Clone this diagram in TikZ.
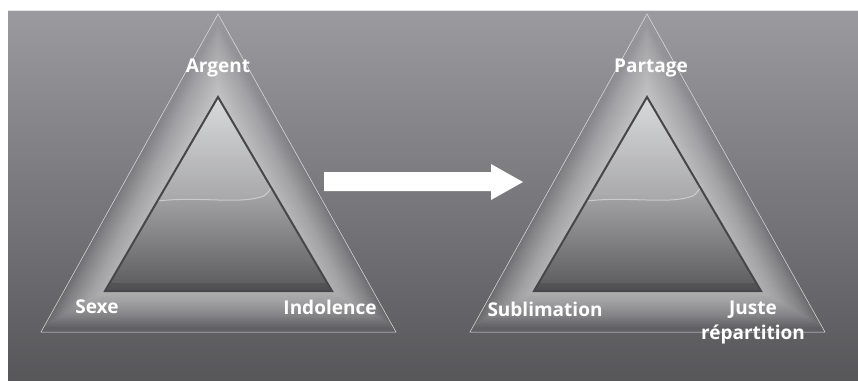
\documentclass[tikz,border=0pt]{standalone}
\usepackage{fontspec}
\setmainfont{Open Sans}
\usepackage{tikz}
\usetikzlibrary{positioning}

\definecolor{bgtop}{HTML}{9B9B9F}
\definecolor{bgbot}{HTML}{57575A}
\definecolor{pyrtop}{HTML}{D6D7D9}
\definecolor{pyrmid}{HTML}{A4A4A7}
\definecolor{pyrbot}{HTML}{5A5A5C}
\definecolor{pyredge}{HTML}{47474A}

\tikzset{
  label/.style={text=white, font=\bfseries\fontsize{19}{21}\selectfont, inner sep=0pt, align=center},
  outerline/.style={draw=white!75!gray, line width=0.5pt},
  inneredge/.style={draw=pyredge, line width=2pt, line join=miter},
}

\begin{document}
\begin{tikzpicture}[x=1pt, y=-1pt]
\useasboundingbox (0,0) rectangle (858,380);
%%%%% Background %%%%%
\shade[top color=bgtop, bottom color=bgbot] (8,10) rectangle (858,380);
\draw[white!70!bgtop, line width=0.8pt] (8,10.4)--(858,10.4);
%%%%% Pyramids %%%%%
\foreach \dx in {0,429}{
\begin{scope}[xshift=\dx]
  \begin{scope}
    \clip (41,332)--(218,14)--(396,332)--cycle;
    \foreach \w in {72,69,...,3}{
      \draw[white, opacity=0.03, line width=\w, line join=miter, miter limit=3] (105,291)--(218,97)--(332,291)--cycle;
    }
  \end{scope}
  \draw[outerline] (41,332)--(218,14)--(396,332)--cycle;
  \shade[top color=pyrtop, bottom color=pyrbot, middle color=pyrmid] (105,291)--(218,97)--(332,291)--cycle;
  \fill[black, opacity=0.12] (105,291)--(110,283)--(327,283)--(332,291)--cycle;
  \fill[white, opacity=0.08] (158,201) .. controls (200,196) and (240,205) .. (264,196)
       .. controls (268,193) and (271,189) .. (272,185)--(218,97)--cycle;
  \draw[white!80!gray, opacity=0.6, line width=1pt] (158,201) .. controls (200,196) and (240,205) .. (264,196)
       .. controls (268,193) and (271,189) .. (272,185);
  \draw[inneredge] (105,291)--(218,97)--(332,291)--cycle;
\end{scope}
}
%%%%% Arrow %%%%%
\fill[white] (324,172)--(491,172)--(491,164)--(523,182)--(491,200)--(491,191)--(324,191)--cycle;
%%%%% Labels %%%%%
\node[label] (argent) at (218,68) {Argent};
\node[label] (sexe) at (97,307) {Sexe};
\node[label] (indolence) at (330,307) {Indolence};
\node[label] (partage) at (651,68) {Partage};
\node[label] (sublimation) at (545,309) {Sublimation};
\node[label] (juste) at (753,310) {Juste};
\node[label, below=6pt of juste] (repartition) {répartition};
\end{tikzpicture}
\end{document}
